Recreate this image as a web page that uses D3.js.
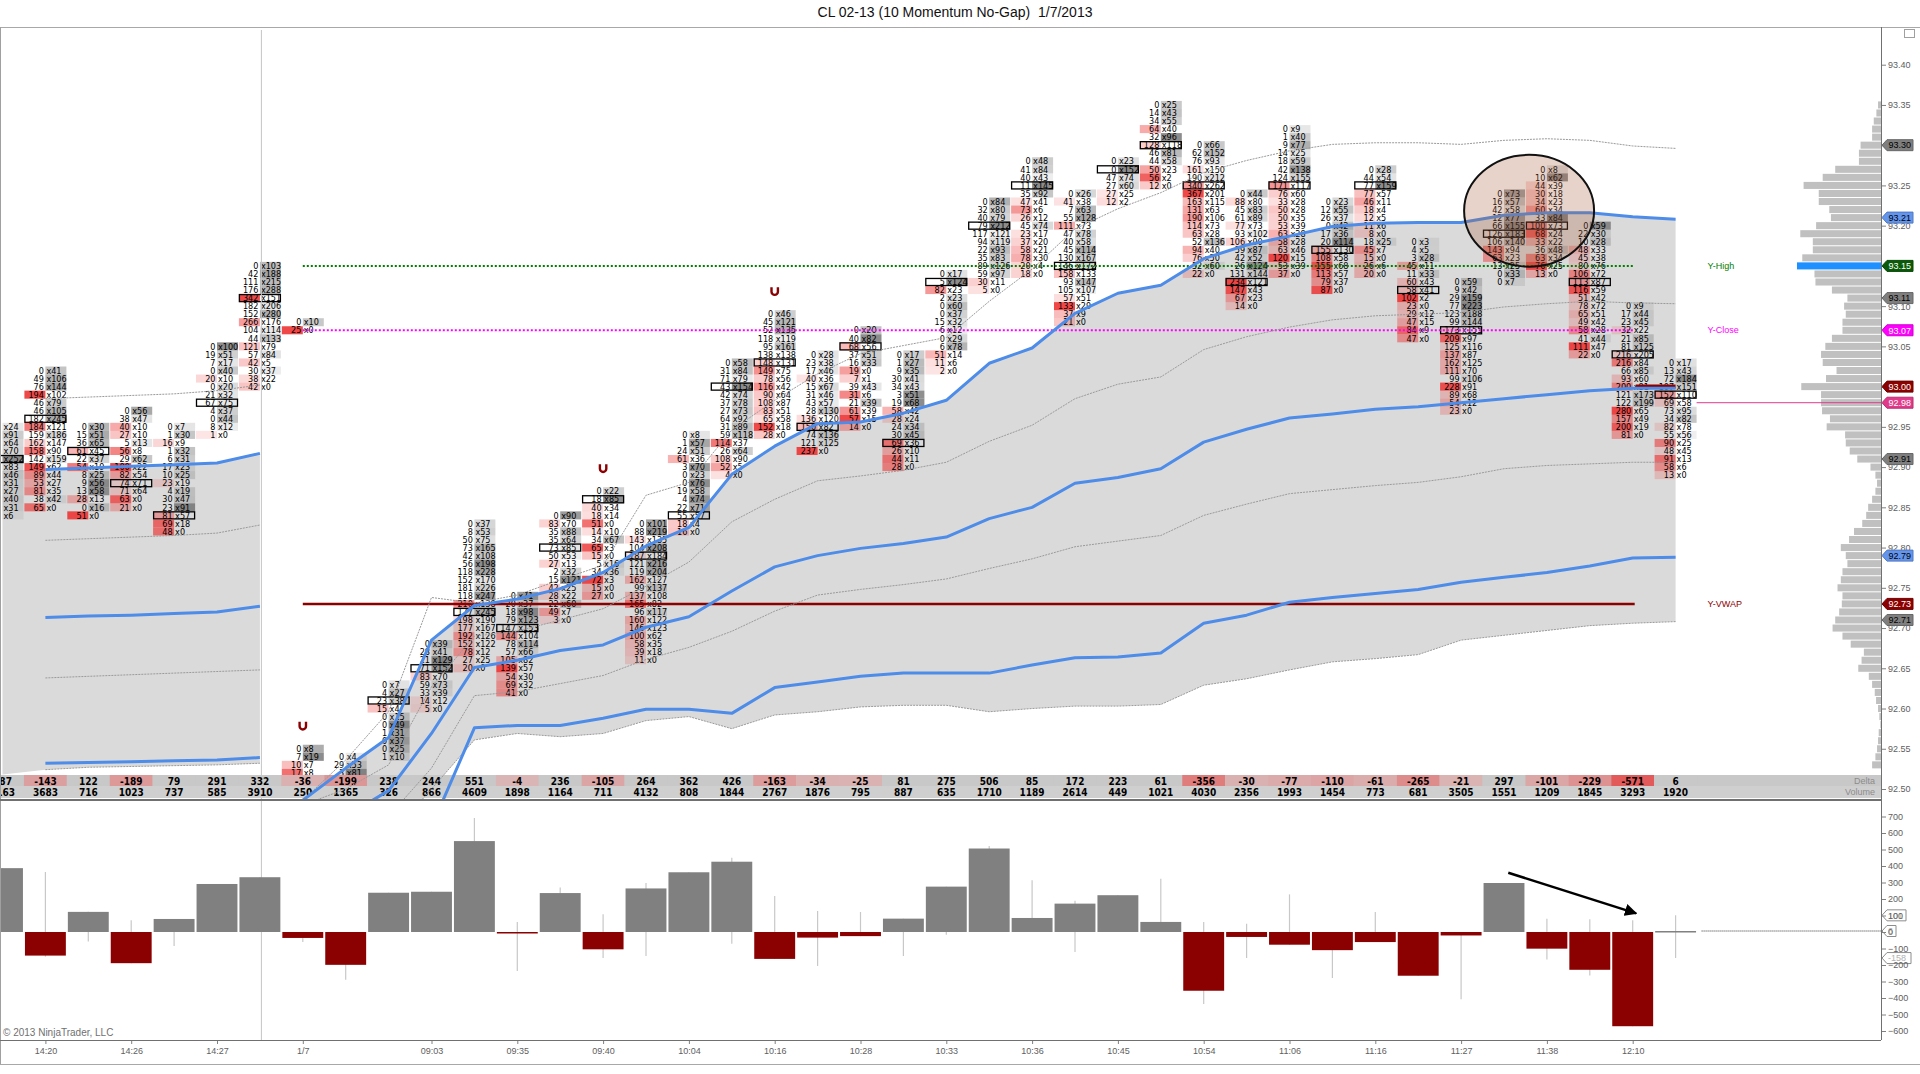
<!DOCTYPE html>
<html>
<head>
<meta charset="utf-8">
<title>CL 02-13 (10 Momentum No-Gap) 1/7/2013</title>
<script src="https://cdn.jsdelivr.net/npm/d3@7"></script>
<style>
  body { margin: 0; background: #fff; }
  svg { display: block; }
  .narrow { font-family: "Liberation Sans Narrow", "Arial Narrow", "DejaVu Sans Condensed", sans-serif; }
  .axis text { font-family: "Liberation Sans", Arial, sans-serif; font-size: 9px; fill: #606060; }
  .axis line { stroke: #808080; }
  .axis path { display: none; }
</style>
</head>
<body>
<script>
/* ==== data ==== */
var titleText = "CL 02-13 (10 Momentum No-Gap)\u00a0 1/7/2013";

// one entry per bar, left to right (bars 0-6 are the previous session)
var deltas  = [387, -143, 122, -189, 79, 291, 332, -36, -199, 238, 244, 551, -4, 236, -105, 264, 362, 426, -163, -34,
               -25, 81, 275, 506, 85, 172, 223, 61, -356, -30, -77, -110, -61, -265, -21, 297, -101, -229, -571, 6];
var volumes = [1163, 3683, 716, 1023, 737, 585, 3910, 250, 1365, 326, 866, 4609, 1898, 1164, 711, 4132, 808, 1844, 2767, 1876,
               795, 887, 635, 1710, 1189, 2614, 449, 1021, 4030, 2356, 1993, 1454, 773, 681, 3505, 1551, 1209, 1845, 3293, 1920];
// delta range inside each bar (thin wicks of the lower panel)
var deltaHigh = [387, 364, 122, 71, 79, 291, 332, 0, 0, 238, 244, 691, 60, 269, 107, 297, 362, 450, 218, 127,
                 121, 81, 275, 521, 313, 190, 223, 323, 60, 50, 228, 0, 121, 0, 0, 297, 81, 77, 71, 101];
var deltaLow  = [0, -150, -57, -189, -85, 0, 0, -61, -289, 0, 0, 0, -236, 0, -158, -145, 0, -71, -163, -206,
                 -25, -145, -16, 0, 0, -121, 0, 0, -436, -158, -77, -279, -61, -265, -408, 0, -166, -263, -571, -158];

// footprint: top price of each bar and its "bid x ask" cells from the top down ("_" = bid off screen)
var fpTop = [92.95, 93.02, 92.95, 92.97, 92.95, 93.05, 93.15, 92.55, 92.54, 92.63, 92.68, 92.83, 92.74, 92.84, 92.87, 92.83,
             92.94, 93.03, 93.09, 93.04, 93.07, 93.04, 93.14, 93.23, 93.28, 93.24, 93.28, 93.35, 93.30, 93.24, 93.32, 93.23,
             93.27, 93.18, 93.13, 93.24, 93.27, 93.20, 93.10, 93.03];
var fpPoc = [4, 6, 3, 9, 11, 7, 4, -1, -1, 2, 3, 11, 4, 4, 1, 4, 10, 3, 6, 9, 2, 11, 1, 3, 3, 9, 1, 5, 5, 11, 7, 6, 2, 6, 6, 5, 7, 7, 6, 4];
var fpCells = [
  "_x24 _x91 _x64 _x70 _x252 _x83 _x46 _x31 _x27 _x40 _x31 _x6",
  "0x41 49x106 76x144 194x102 46x79 46x105 182x245 184x121 159x186 162x147 158x90 142x159 149x62 89x44 53x27 81x35 38x42 65x0",
  "0x30 15x51 36x65 61x45 22x37 54x19 8x25 9x56 13x58 28x13 0x16 51x0",
  "0x56 38x47 40x10 27x10 5x13 56x8 29x62 100x22 82x54 74x71 71x64 63x0 21x0",
  "0x7 1x30 16x9 1x32 6x31 17x23 10x25 23x19 4x19 30x47 23x91 81x57 69x18 48x0",
  "0x100 19x51 7x17 0x40 20x10 0x20 21x32 67x75 4x37 0x44 8x12 1x0",
  "0x103 42x188 111x215 176x288 342x151 182x206 152x280 266x176 104x114 44x133 121x79 57x84 42x5 30x37 38x22 42x0",
  "0x8 7x19 10x7 17x8",
  "0x4 29x53 3x81",
  "0x7 4x27 23x38 15x4 0x15 0x49 1x31 0x37 0x25 1x10",
  "0x39 28x41 21x129 71x152 83x70 59x73 33x39 14x12 5x0",
  "0x37 8x53 50x75 73x165 42x108 56x198 118x228 152x170 181x226 118x247 210x138 177x245 198x190 177x167 192x126 152x122 78x12 27x25 20x0",
  "0x71 20x37 18x98 79x123 147x153 144x104 78x114 57x66 105x82 139x57 54x30 69x32 41x0",
  "0x90 83x70 35x88 35x64 73x85 50x53 27x13 2x32 15x121 42x25 28x22 22x60 49x7 3x0",
  "0x22 18x85 40x34 18x14 51x0 14x10 34x67 65x3 15x0 5x16 34x36 72x3 15x0 27x0",
  "0x101 88x219 143x135 104x208 187x184 121x216 119x204 162x127 99x137 137x108 165x82 96x117 160x122 146x123 100x62 58x35 39x18 11x0",
  "0x8 1x57 24x51 61x36 3x70 0x23 0x76 19x58 4x74 22x71 55x57 18x4 16x0",
  "0x58 31x84 71x79 43x154 42x74 37x78 27x73 64x92 31x89 59x118 114x37 26x64 108x90 52x5 4x0",
  "0x46 45x121 52x135 118x119 95x161 138x138 148x131 149x75 78x56 116x42 90x64 108x87 83x51 65x58 152x18 28x0",
  "0x28 23x38 17x46 40x36 15x67 31x46 43x57 28x130 136x120 150x82 74x136 121x125 237x0",
  "0x20 40x82 68x56 37x51 16x33 19x0 7x1 39x43 31x6 21x39 61x39 57x15 14x0",
  "0x17 1x27 9x35 30x41 34x43 3x51 19x68 58x42 28x24 24x34 30x45 69x36 26x10 44x11 28x0",
  "0x17 5x124 82x23 2x23 0x60 0x37 15x32 6x12 0x29 6x78 51x14 11x6 2x0",
  "0x84 32x80 40x79 79x212 117x121 94x119 22x93 35x83 89x126 59x97 30x11 5x0",
  "0x48 41x84 40x43 11x145 35x92 47x41 73x6 26x12 45x74 23x17 37x20 58x21 78x30 20x4 18x0",
  "0x26 41x38 7x63 55x128 111x73 47x78 40x58 45x114 130x167 146x172 158x133 93x147 105x107 57x51 133x29 37x9 21x0",
  "0x23 0x152 47x74 27x60 27x25 12x2",
  "0x25 14x43 34x55 64x40 32x96 128x118 46x81 44x58 50x23 56x2 12x0",
  "0x66 62x152 76x93 161x150 190x212 340x262 367x201 163x115 131x63 190x106 114x73 63x28 52x136 94x40 76x50 52x60 22x0",
  "0x44 88x80 45x83 61x89 77x73 93x102 106x90 59x87 42x52 26x124 131x144 234x121 147x43 67x23 14x0",
  "0x9 1x40 9x77 14x25 18x59 42x138 124x155 171x117 76x60 33x28 50x28 50x35 53x39 63x28 58x28 63x46 120x15 53x39 37x0",
  "0x23 12x55 26x37 0x42 17x36 20x114 155x130 108x58 155x68 113x57 79x37 87x0",
  "0x28 44x54 77x159 77x57 46x11 18x4 12x5 11x6 8x0 18x25 45x7 15x0 26x6 20x0",
  "0x3 4x5 3x28 45x11 11x33 60x43 58x41 102x2 23x0 29x12 47x15 84x9 47x0",
  "0x59 9x42 29x159 77x223 123x188 99x144 173x155 209x97 125x116 137x87 162x125 111x70 99x106 228x91 89x68 54x12 23x0",
  "0x73 16x57 42x58 12x77 66x155 126x183 106x140 143x94 63x23 13x25 0x33 0x7",
  "0x8 10x62 44x39 30x18 34x23 60x34 33x84 100x73 68x24 33x22 36x48 63x34 76x25 13x0",
  "0x59 22x30 10x28 48x33 45x38 80x76 106x72 113x87 116x59 51x42 78x72 65x51 49x42 58x28 41x44 111x47 22x0",
  "0x9 17x44 23x45 32x22 21x85 81x125 216x205 216x84 66x85 93x60 200x81 121x173 122x199 280x65 157x49 200x19 81x0",
  "0x17 13x43 72x184 107x151 152x110 69x58 73x95 34x82 82x78 55x56 90x25 48x45 91x13 58x6 13x0"
];
// the two detached opening cells of bar 7
var gapBar = 7, gapTop = 93.08, gapCells = "0x10 25x0";
// unfinished auction marks
var auctionBars = [7, 14, 18];

// VWAP and deviation bands, previous session (bars 0-6)
var prevUp3 = [92.981, 92.985, 92.987, 92.989, 92.991, 92.995, 93.002];
var prevUp2 = [92.895, 92.897, 92.899, 92.901, 92.903, 92.905, 92.917];
var prevUp1 = [92.806, 92.809, 92.811, 92.813, 92.815, 92.818, 92.828];
var prevMid = [92.711, 92.713, 92.715, 92.716, 92.718, 92.720, 92.727];
var prevLo1 = [92.636, 92.638, 92.640, 92.642, 92.644, 92.646, 92.648];
var prevLo2 = [92.531, 92.532, 92.533, 92.534, 92.535, 92.536, 92.539];
var prevLo3 = [92.518, 92.524, 92.527, 92.528, 92.529, 92.530, 92.532];
// current session (bars 7-39)
var sessStart = 7;
var sdUp3 = [92.486, 92.536, 92.596, 92.738, 92.731, 92.741, 92.760, 92.778, 92.865, 92.881, 92.946, 92.983, 93.016, 93.041, 93.051, 93.061, 93.106,
             93.146, 93.196, 93.221, 93.241, 93.266, 93.281, 93.293, 93.301, 93.303, 93.303, 93.301, 93.306, 93.308, 93.306, 93.299, 93.296];
var sdUp2 = [92.486, 92.526, 92.564, 92.685, 92.728, 92.736, 92.749, 92.769, 92.802, 92.825, 92.891, 92.926, 92.954, 92.956, 92.967, 92.983, 93.029,
             93.048, 93.091, 93.116, 93.126, 93.159, 93.176, 93.187, 93.199, 93.203, 93.204, 93.204, 93.213, 93.216, 93.216, 93.211, 93.208];
var sdUp1 = [92.480, 92.500, 92.530, 92.627, 92.690, 92.696, 92.710, 92.724, 92.752, 92.782, 92.832, 92.860, 92.883, 92.889, 92.896, 92.906, 92.932,
             92.952, 92.985, 93.003, 93.012, 93.046, 93.062, 93.074, 93.083, 93.088, 93.090, 93.092, 93.099, 93.103, 93.106, 93.104, 93.103];
var vwapMid = [92.476, 92.466, 92.498, 92.569, 92.651, 92.660, 92.672, 92.679, 92.701, 92.714, 92.746, 92.776, 92.790, 92.799, 92.805, 92.813, 92.836,
               92.850, 92.880, 92.887, 92.898, 92.931, 92.947, 92.961, 92.966, 92.972, 92.975, 92.980, 92.985, 92.990, 92.995, 92.998, 92.998];
var sdLo1 = [92.470, 92.440, 92.466, 92.526, 92.616, 92.621, 92.631, 92.641, 92.661, 92.676, 92.696, 92.721, 92.741, 92.748, 92.754, 92.761, 92.774,
             92.786, 92.801, 92.808, 92.815, 92.840, 92.854, 92.867, 92.872, 92.877, 92.881, 92.888, 92.898, 92.902, 92.904, 92.906, 92.906];
var sdLo2 = [92.466, 92.406, 92.432, 92.453, 92.576, 92.579, 92.579, 92.588, 92.599, 92.599, 92.594, 92.626, 92.633, 92.640, 92.644, 92.644, 92.644,
             92.654, 92.663, 92.664, 92.669, 92.706, 92.716, 92.732, 92.738, 92.743, 92.748, 92.757, 92.763, 92.769, 92.777, 92.787, 92.788];
var sdLo3 = [92.420, 92.400, 92.440, 92.500, 92.561, 92.569, 92.565, 92.569, 92.585, 92.590, 92.575, 92.592, 92.596, 92.602, 92.604, 92.604, 92.596,
             92.600, 92.603, 92.603, 92.605, 92.629, 92.637, 92.648, 92.658, 92.662, 92.667, 92.685, 92.691, 92.697, 92.703, 92.706, 92.708];

// yesterday's levels
var yHigh = 93.15, yClose = 93.07, yVwap = 92.73;
var lastPrice = 92.98, prevBarClose = 93.00;

// volume profile on the right edge, one value per tick from the top down
var profileTop = 93.35;
var profileVol = [9, 14, 22, 27, 27, 62, 67, 67, 139, 177, 235, 189, 189, 157, 152, 197, 245, 207, 207, 239,
                  255, 202, 199, 149, 102, 112, 107, 117, 117, 149, 169, 182, 177, 135, 167, 242, 182, 182, 179, 155,
                  165, 109, 107, 95, 72, 32, 17, 12, 17, 27, 39, 45, 57, 82, 97, 122, 107, 102, 117, 122,
                  132, 117, 119, 127, 139, 147, 117, 92, 52, 59, 69, 37, 27, 19, 15, 9, 5, 2, 7, 9,
                  12, 17, 27];

// price axis tags
var tagPrices = [93.30, 93.21, 93.15, 93.11, 93.07, 93.00, 92.98, 92.91, 92.79, 92.73, 92.71];
var tagKinds  = ["sd", "band", "yhigh", "sd", "yclose", "bar", "last", "sd", "band", "yvwap", "sd"];
// lower panel axis tags
var lowTags = [101, 6, -158];

// time axis
var tickBars   = [1, 3, 5, 7, 10, 12, 14, 16, 18, 20, 22, 24, 26, 28, 30, 32, 34, 36, 38];
var tickLabels = ["14:20", "14:26", "14:27", "1/7", "09:03", "09:35", "09:40", "10:04", "10:16", "10:28",
                  "10:33", "10:36", "10:45", "10:54", "11:06", "11:16", "11:27", "11:38", "12:10"];

// annotations (bar index / price or delta units)
var circleBars = [34.07, 37.1], circlePrices = [93.149, 93.288];
var arrowFrom = [35.1, 359], arrowTo = [38.08, 113];

/* ==== layout ==== */
var W = 1920, H = 1074;
var axisX = 1881, priceTop = 27, priceBottom = 800, lowTop = 801, lowBottom = 1040;

var x = d3.scaleLinear().domain([0, 39]).range([2.5, 1675.6]);
var barW = x(1) - x(0);
var half = 21;
var y = d3.scaleLinear().domain([92.50, 93.40]).range([789, 64.7]);
var yd = d3.scaleLinear().domain([-600, 700]).range([1031, 816.5]);
var cellH = y(92.50) - y(92.51);
var profW = d3.scaleLinear().domain([0, d3.max(profileVol)]).range([0, 84]);

var tagColor = { sd: "#7f7f7f", band: "#6495ed", yhigh: "#0a5a0a", yclose: "#ff00ff", bar: "#8b0000", last: "#e23a8a", yvwap: "#8b0000" };
var tagText  = { sd: "#000", band: "#000", yhigh: "#fff", yclose: "#fff", bar: "#fff", last: "#fff", yvwap: "#fff" };

var svg = d3.select("body").append("svg").attr("width", W).attr("height", H);
var defs = svg.append("defs");
defs.append("clipPath").attr("id", "pclip").append("rect")
  .attr("x", 0).attr("y", priceTop).attr("width", axisX).attr("height", priceBottom - priceTop);
defs.append("marker").attr("id", "ahead").attr("viewBox", "0 0 10 10").attr("refX", 9).attr("refY", 5)
  .attr("markerWidth", 5).attr("markerHeight", 5).attr("orient", "auto")
  .append("path").attr("d", "M0,0 L10,5 L0,10 z").attr("fill", "#000");

// title
svg.append("text").attr("x", 955).attr("y", 17).attr("text-anchor", "middle")
  .style("font-family", "'Liberation Sans', Arial, sans-serif").style("font-size", "14px").attr("fill", "#111")
  .text(titleText);

/* ==== price panel ==== */
var pp = svg.append("g").attr("clip-path", "url(#pclip)");

function seriesOf(arr, start) {
  return arr.map(function(v, k) { return { i: start + k, v: v }; });
}
function bandOf(hi, lo, start) {
  return hi.map(function(v, k) { return { i: start + k, hi: v, lo: lo[k] }; });
}

var area = d3.area().x(function(d) { return x(d.i); })
  .y0(function(d) { return y(d.lo); }).y1(function(d) { return y(d.hi); });
pp.append("path").datum(bandOf(prevUp2, prevLo3, 0)).attr("d", area).attr("fill", "#dadada");
pp.append("path").datum(bandOf(sdUp2, sdLo3, sessStart)).attr("d", area).attr("fill", "#dadada");

// session break
svg.append("line").attr("x1", x(6) + 1.5).attr("x2", x(6) + 1.5).attr("y1", priceTop + 3).attr("y2", lowBottom)
  .attr("stroke", "#c4c4c4");

// volume profile
pp.selectAll(".prof").data(profileVol).enter().append("rect")
  .attr("x", function(v) { return axisX - profW(v); })
  .attr("y", function(v, k) { return y(profileTop - k * 0.01) - cellH / 2 + 0.5; })
  .attr("width", function(v) { return profW(v); })
  .attr("height", cellH - 1)
  .attr("fill", function(v) { return v === d3.max(profileVol) ? "#1e90ff" : "#c0c0c0"; });

// footprint cells
function parseCells(str) {
  return str.split(" ").map(function(s) {
    var p = s.split("x");
    return { bid: p[0] === "_" ? null : +p[0], ask: +p[1] };
  });
}

function drawColumn(i, top, cells, poc) {
  var cx = x(i);
  var g = pp.append("g");
  var maxDiff = d3.max(cells, function(c) { return Math.abs(c.ask - (c.bid || 0)); }) || 1;
  cells.forEach(function(c, k) {
    var cy = y(top - k * 0.01);
    var diff = c.ask - (c.bid || 0);
    if (diff !== 0) {
      var a = 0.12 + 0.78 * Math.abs(diff) / maxDiff;
      g.append("rect")
        .attr("x", diff < 0 ? cx - half : cx).attr("y", cy - cellH / 2)
        .attr("width", half).attr("height", cellH)
        .attr("fill", diff < 0 ? "rgb(236,52,52)" : "rgb(96,96,96)")
        .attr("fill-opacity", diff < 0 ? a : a * 0.8);
    }
    if (c.bid !== null) {
      g.append("text").attr("class", "narrow").attr("x", cx - 1.5).attr("y", cy + 3.2)
        .attr("text-anchor", "end").style("font-size", "9px").text(c.bid);
    }
    g.append("text").attr("class", "narrow").attr("x", cx + 1).attr("y", cy + 3.2)
      .style("font-size", "9px").text("x" + c.ask);
    if (k === poc) {
      g.append("rect").attr("x", cx - half + 0.5).attr("y", cy - cellH / 2 + 0.5)
        .attr("width", 2 * half - 1).attr("height", cellH - 1)
        .attr("fill", "none").attr("stroke", "#000").attr("stroke-width", 1.3);
    }
  });
}

fpCells.forEach(function(str, i) { drawColumn(i, fpTop[i], parseCells(str), fpPoc[i]); });
drawColumn(gapBar, gapTop, parseCells(gapCells), -1);

// unfinished auction marks
auctionBars.forEach(function(b) {
  var cy = y(fpTop[b]) - 23;
  pp.append("path").attr("transform", "translate(" + x(b) + "," + cy + ")")
    .attr("d", "M-3.2,-4 V0.5 A3.2,3.2 0 0 0 3.2,0.5 V-4")
    .attr("fill", "none").attr("stroke", "#8b0000").attr("stroke-width", 2.4);
});

/* ==== delta / volume rows ==== */
var rowG = svg.append("g");
var negColor = d3.interpolateRgb("#dab6b6", "#e25a5a");
var maxNeg = -d3.min(deltas);
rowG.append("rect").attr("x", 0).attr("y", 775).attr("width", axisX).attr("height", 11).attr("fill", "#c8c8c8");
rowG.append("rect").attr("x", 0).attr("y", 786).attr("width", axisX).attr("height", 12).attr("fill", "#cfcfcf");
rowG.selectAll(".dcell").data(deltas).enter().append("rect")
  .attr("x", function(d, i) { return x(i) - barW / 2; }).attr("y", 775)
  .attr("width", barW).attr("height", 11)
  .attr("fill", function(d) { return d < 0 ? negColor(-d / maxNeg) : "#c8c8c8"; });
rowG.selectAll(".dtxt").data(deltas).enter().append("text").attr("class", "narrow")
  .attr("x", function(d, i) { return x(i); }).attr("y", 784.5).attr("text-anchor", "middle")
  .style("font-size", "10px").style("font-weight", "bold").text(function(d) { return d; });
rowG.selectAll(".vtxt").data(volumes).enter().append("text").attr("class", "narrow")
  .attr("x", function(d, i) { return x(i); }).attr("y", 795.5).attr("text-anchor", "middle")
  .style("font-size", "10px").style("font-weight", "bold").text(function(d) { return d; });
rowG.append("text").attr("x", axisX - 6).attr("y", 784).attr("text-anchor", "end")
  .style("font-family", "'Liberation Sans', Arial, sans-serif").style("font-size", "9px").attr("fill", "#8c8c8c").text("Delta");
rowG.append("text").attr("x", axisX - 6).attr("y", 795).attr("text-anchor", "end")
  .style("font-family", "'Liberation Sans', Arial, sans-serif").style("font-size", "9px").attr("fill", "#8c8c8c").text("Volume");

/* ==== yesterday's levels ==== */
var lvG = svg.append("g");
function level(p, color, width, dash, label) {
  lvG.append("line").attr("x1", x(sessStart)).attr("x2", x(38) + 2).attr("y1", y(p)).attr("y2", y(p))
    .attr("stroke", color).attr("stroke-width", width).attr("stroke-dasharray", dash);
  lvG.append("text").attr("x", x(39) + 32).attr("y", y(p) + 3)
    .style("font-family", "'Liberation Sans', Arial, sans-serif").style("font-size", "9px")
    .attr("fill", color).text(label);
}
level(yHigh, "#008000", 2, "2,2", "Y-High");
level(yClose, "#ff00ff", 2, "2,2", "Y-Close");
level(yVwap, "#8b0000", 2.5, null, "Y-VWAP");

lvG.append("line").attr("x1", x(38) + 3).attr("x2", x(39)).attr("y1", y(prevBarClose)).attr("y2", y(prevBarClose))
  .attr("stroke", "#8b0000").attr("stroke-width", 4);
lvG.append("line").attr("x1", x(39) + half).attr("x2", axisX).attr("y1", y(lastPrice)).attr("y2", y(lastPrice))
  .attr("stroke", "#e23a8a").attr("stroke-width", 1);

/* ==== VWAP bands ==== */
var lineG = svg.append("g").attr("clip-path", "url(#pclip)");
var line = d3.line().x(function(d) { return x(d.i); }).y(function(d) { return y(d.v); });
function band(arr, start, thick) {
  lineG.append("path").datum(seriesOf(arr, start)).attr("d", line).attr("fill", "none")
    .attr("stroke", thick ? "#4d8ce8" : "#9a9a9a")
    .attr("stroke-width", thick ? 3 : 1)
    .attr("stroke-dasharray", thick ? null : "2,1")
    .attr("stroke-linejoin", "round");
}
[prevUp3, prevUp1, prevLo1, prevLo3].forEach(function(a) { band(a.slice(1), 1, false); });
[prevUp2, prevMid, prevLo2].forEach(function(a) { band(a.slice(1), 1, true); });
[sdUp3, sdUp1, sdLo1, sdLo3].forEach(function(a) { band(a, sessStart, false); });
[sdUp2, vwapMid, sdLo2].forEach(function(a) { band(a, sessStart, true); });

// circled area
svg.append("ellipse")
  .attr("cx", (x(circleBars[0]) + x(circleBars[1])) / 2)
  .attr("cy", (y(circlePrices[0]) + y(circlePrices[1])) / 2)
  .attr("rx", (x(circleBars[1]) - x(circleBars[0])) / 2)
  .attr("ry", (y(circlePrices[0]) - y(circlePrices[1])) / 2)
  .attr("fill", "rgb(170,96,60)").attr("fill-opacity", 0.28)
  .attr("stroke", "#111").attr("stroke-width", 2);

/* ==== price axis ==== */
var priceTicks = d3.range(0, 19).map(function(k) { return +(92.50 + k * 0.05).toFixed(2); });
svg.append("g").attr("class", "axis").attr("transform", "translate(" + axisX + ",0)")
  .call(d3.axisRight(y).tickValues(priceTicks).tickSize(5).tickPadding(2).tickFormat(d3.format(".2f")));

var tagG = svg.append("g");
tagPrices.forEach(function(p, k) {
  var cy = y(p), kind = tagKinds[k];
  tagG.append("path")
    .attr("d", "M" + (axisX + 1) + "," + cy + " L" + (axisX + 6) + "," + (cy - 5.5) + " H" + (axisX + 32) +
               " V" + (cy + 5.5) + " H" + (axisX + 6) + " Z")
    .attr("fill", tagColor[kind]).attr("stroke", d3.color(tagColor[kind]).darker(0.6));
  tagG.append("text").attr("x", axisX + 7.5).attr("y", cy + 3.3)
    .style("font-family", "'Liberation Sans', Arial, sans-serif").style("font-size", "9px")
    .attr("fill", tagText[kind]).text(p.toFixed(2));
});

/* ==== lower panel: delta per bar ==== */
var lowG = svg.append("g");
lowG.selectAll(".wick").data(deltas).enter().append("line")
  .attr("x1", function(d, i) { return x(i); }).attr("x2", function(d, i) { return x(i); })
  .attr("y1", function(d, i) { return yd(deltaHigh[i]); }).attr("y2", function(d, i) { return yd(deltaLow[i]); })
  .attr("stroke", "#c8c8c8").attr("stroke-width", 1.2);
lowG.selectAll(".dbar").data(deltas).enter().append("rect")
  .attr("x", function(d, i) { return x(i) - barW / 2 + 1; })
  .attr("y", function(d) { return Math.min(yd(0), yd(d)); })
  .attr("width", barW - 2)
  .attr("height", function(d) { return Math.max(1.5, Math.abs(yd(d) - yd(0))); })
  .attr("fill", function(d) { return d < 0 ? "#8b0000" : "#808080"; });

lowG.append("line").attr("x1", x(39) + 26).attr("x2", axisX).attr("y1", yd(deltas[39])).attr("y2", yd(deltas[39]))
  .attr("stroke", "#333").attr("stroke-dasharray", "1,1");

lowG.append("line")
  .attr("x1", x(arrowFrom[0])).attr("y1", yd(arrowFrom[1]))
  .attr("x2", x(arrowTo[0])).attr("y2", yd(arrowTo[1]))
  .attr("stroke", "#000").attr("stroke-width", 2.5).attr("marker-end", "url(#ahead)");

svg.append("g").attr("class", "axis").attr("transform", "translate(" + axisX + ",0)")
  .call(d3.axisRight(yd).tickValues(d3.range(-600, 701, 100)).tickSize(5).tickPadding(2));

lowTags.forEach(function(v) {
  var cy = yd(v);
  var wdt = String(v).length * 5 + 10;
  lowG.append("path")
    .attr("d", "M" + (axisX + 1) + "," + cy + " L" + (axisX + 6) + "," + (cy - 5.5) + " H" + (axisX + wdt) +
               " V" + (cy + 5.5) + " H" + (axisX + 6) + " Z")
    .attr("fill", "#fff").attr("stroke", "#8c8c8c");
  lowG.append("text").attr("x", axisX + 7).attr("y", cy + 3.3)
    .style("font-family", "'Liberation Sans', Arial, sans-serif").style("font-size", "9px")
    .attr("fill", "#b0b0b0").text(v);
});

lowG.append("text").attr("x", 3).attr("y", 1036)
  .style("font-family", "'Liberation Sans', Arial, sans-serif").style("font-size", "10px").attr("fill", "#707070")
  .text("\u00a9 2013 NinjaTrader, LLC");

/* ==== time axis ==== */
svg.append("g").attr("class", "axis").attr("transform", "translate(0," + lowBottom + ")")
  .call(d3.axisBottom(x).tickValues(tickBars).tickSize(4).tickPadding(4)
    .tickFormat(function(d, i) { return tickLabels[i]; }));

/* ==== frames ==== */
var fr = svg.append("g").attr("fill", "none");
fr.append("line").attr("x1", 0).attr("x2", W).attr("y1", priceTop + 0.5).attr("y2", priceTop + 0.5).attr("stroke", "#a8a8a8");
fr.append("line").attr("x1", 0.5).attr("x2", 0.5).attr("y1", priceTop).attr("y2", 1064).attr("stroke", "#a0a0a0");
fr.append("line").attr("x1", 0).attr("x2", axisX).attr("y1", priceBottom).attr("y2", priceBottom).attr("stroke", "#707070").attr("stroke-width", 2);
fr.append("line").attr("x1", 0).attr("x2", axisX).attr("y1", lowBottom + 0.5).attr("y2", lowBottom + 0.5).attr("stroke", "#707070");
fr.append("line").attr("x1", axisX + 0.5).attr("x2", axisX + 0.5).attr("y1", priceTop).attr("y2", lowBottom).attr("stroke", "#707070");
fr.append("line").attr("x1", 0).attr("x2", W).attr("y1", 1064.5).attr("y2", 1064.5).attr("stroke", "#a8a8a8");
fr.append("rect").attr("x", 1904.5).attr("y", 29.5).attr("width", 10).attr("height", 8).attr("stroke", "#a0a0a0");
</script>
</body>
</html>
